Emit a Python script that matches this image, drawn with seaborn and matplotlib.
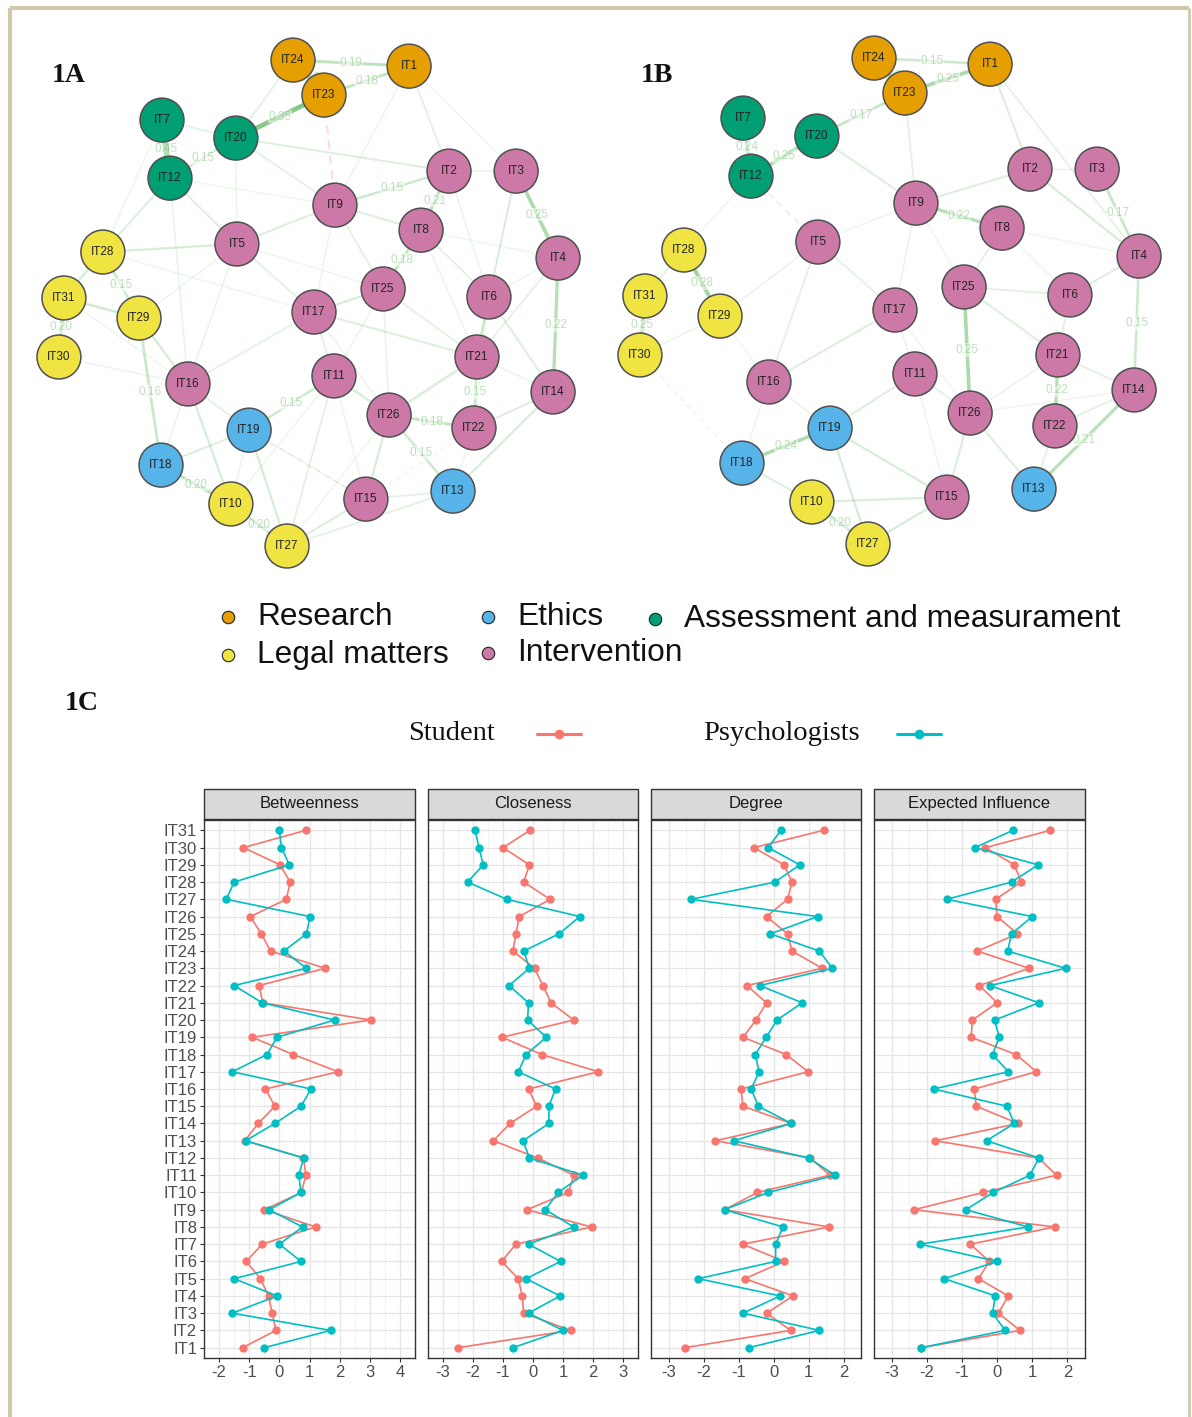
import numpy as np
import pandas as pd
import matplotlib
matplotlib.use("Agg")
import matplotlib.pyplot as plt
import seaborn as sns
from matplotlib.patches import Rectangle

# ---------------- data ----------------
items = [f"IT{i}" for i in range(1, 32)]

betw_student = [-1.22, -0.11, -0.24, -0.36, -0.63, -1.10, -0.57, 1.20, -0.50, 0.73, 0.88, 0.80, -1.15, -0.70, -0.15,
                -0.46, 1.95, 0.46, -0.90, 3.04, -0.55, -0.67, 1.52, -0.29, -0.60, -0.96, 0.23, 0.36, 0.02, -1.19, 0.88]
betw_psych = [-0.50, 1.70, -1.56, -0.08, -1.50, 0.72, 0.00, 0.77, -0.34, 0.72, 0.64, 0.81, -1.12, -0.15, 0.72,
              1.05, -1.56, -0.41, -0.08, 1.83, -0.57, -1.50, 0.90, 0.15, 0.90, 1.02, -1.76, -1.50, 0.33, 0.07, 0.00]
close_student = [-2.49, 1.25, -0.31, -0.36, -0.49, -1.05, -0.57, 1.95, -0.20, 1.18, 1.36, 0.15, -1.32, -0.77, 0.12,
                 -0.15, 2.18, 0.29, -1.03, 1.36, 0.60, 0.33, 0.05, -0.67, -0.57, -0.46, 0.57, -0.31, -0.12, -1.00, -0.10]
close_psych = [-0.67, 1.00, -0.15, 0.90, -0.23, 0.92, -0.15, 1.36, 0.41, 0.84, 1.66, -0.12, -0.33, 0.53, 0.53,
               0.75, -0.49, -0.23, 0.44, -0.18, -0.15, -0.80, -0.12, -0.31, 0.87, 1.56, -0.87, -2.18, -1.66, -1.80, -1.93]
degree_student = [-2.53, 0.49, -0.20, 0.56, -0.82, 0.30, -0.88, 1.59, -1.40, -0.46, 1.61, 1.05, -1.66, 0.51, -0.87,
                  -0.93, 0.99, 0.36, -0.87, -0.50, -0.20, -0.76, 1.39, 0.53, 0.40, -0.20, 0.40, 0.53, 0.30, -0.56, 1.43]
degree_psych = [-0.70, 1.31, -0.87, 0.19, -2.15, 0.06, 0.06, 0.27, -1.40, -0.15, 1.76, 1.00, -1.14, 0.51, -0.43,
                -0.64, -0.41, -0.52, -0.21, 0.10, 0.82, -0.39, 1.68, 1.31, -0.09, 1.26, -2.36, 0.04, 0.75, -0.15, 0.21]
ei_student = [-2.15, 0.65, 0.04, 0.32, -0.53, -0.22, -0.76, 1.64, -2.36, -0.39, 1.69, 1.18, -1.76, 0.60, -0.59,
              -0.65, 1.12, 0.54, -0.74, -0.70, 0.00, -0.50, 0.91, -0.56, 0.58, 0.00, -0.04, 0.69, 0.49, -0.33, 1.51]
ei_psych = [-2.15, 0.23, -0.13, -0.05, -1.50, 0.00, -2.19, 0.88, -0.89, -0.11, 0.93, 1.19, -0.30, 0.49, 0.28,
            -1.80, 0.32, -0.13, 0.06, -0.07, 1.19, -0.20, 1.95, 0.30, 0.41, 1.00, -1.43, 0.41, 1.17, -0.63, 0.45]

measures = ["Betweenness", "Closeness", "Degree", "Expected Influence"]
groups = ["Student", "Psychologists"]

# shared network layout (IT1..IT31)
layout_x = [0.403, 0.563, 0.832, 1.000, -0.287, 0.723, -0.587, 0.451, 0.106, -0.311, 0.102, -0.555, 0.579, 0.980,
            0.230, -0.483, 0.022, -0.591, -0.238, -0.291, 0.675, 0.663, 0.062, -0.062, 0.299, 0.323, -0.086,
            -0.824, -0.679, -1.000, -0.980]
layout_y = [0.975, 0.543, 0.543, 0.185, 0.243, 0.025, 0.753, 0.300, 0.403, -0.827, -0.300, 0.514, -0.774, -0.366,
            -0.807, -0.333, -0.037, -0.667, -0.523, 0.679, -0.222, -0.514, 0.856, 1.000, 0.058, -0.461, -1.000,
            0.210, -0.062, -0.222, 0.021]

domains = ["Research", "Legal matters", "Ethics", "Intervention", "Assessment and measurament"]
node_domain = {}
for it in ["IT1", "IT23", "IT24"]:
    node_domain[it] = "Research"
for it in ["IT7", "IT12", "IT20"]:
    node_domain[it] = "Assessment and measurament"
for it in ["IT10", "IT27", "IT28", "IT29", "IT30", "IT31"]:
    node_domain[it] = "Legal matters"
for it in ["IT13", "IT18", "IT19"]:
    node_domain[it] = "Ethics"
for it in items:
    node_domain.setdefault(it, "Intervention")

edges_students = [
    ("IT7", "IT12", 0.45), ("IT23", "IT20", 0.35), ("IT24", "IT23", 0.30), ("IT24", "IT1", 0.19),
    ("IT23", "IT1", 0.18), ("IT20", "IT12", 0.15), ("IT7", "IT20", 0.08), ("IT24", "IT20", 0.08),
    ("IT23", "IT9", -0.12), ("IT20", "IT2", 0.10), ("IT20", "IT9", 0.08), ("IT9", "IT2", 0.15),
    ("IT2", "IT8", 0.21), ("IT3", "IT4", 0.25), ("IT4", "IT14", 0.22), ("IT8", "IT25", 0.18),
    ("IT25", "IT17", 0.12), ("IT12", "IT28", 0.10), ("IT12", "IT5", 0.10), ("IT28", "IT5", 0.12),
    ("IT28", "IT31", 0.12), ("IT28", "IT29", 0.15), ("IT31", "IT30", 0.20), ("IT31", "IT29", 0.14),
    ("IT29", "IT16", 0.12), ("IT29", "IT18", 0.16), ("IT16", "IT10", 0.12), ("IT16", "IT19", 0.08),
    ("IT18", "IT10", 0.20), ("IT18", "IT19", 0.10), ("IT10", "IT27", 0.20), ("IT19", "IT27", 0.12),
    ("IT11", "IT19", 0.15), ("IT11", "IT26", 0.12), ("IT17", "IT11", 0.08), ("IT17", "IT21", 0.10),
    ("IT6", "IT21", 0.14), ("IT21", "IT22", 0.15), ("IT26", "IT22", 0.18), ("IT26", "IT21", 0.12),
    ("IT26", "IT13", 0.15), ("IT26", "IT15", 0.12), ("IT22", "IT14", 0.10), ("IT13", "IT14", 0.12),
    ("IT6", "IT14", 0.10), ("IT27", "IT15", 0.10), ("IT27", "IT13", 0.08), ("IT15", "IT13", 0.08),
    ("IT5", "IT9", 0.10), ("IT5", "IT17", 0.08), ("IT1", "IT2", 0.08), ("IT3", "IT6", 0.08),
    ("IT8", "IT6", 0.08), ("IT2", "IT3", 0.06), ("IT9", "IT25", 0.08), ("IT17", "IT16", 0.08),
    ("IT11", "IT27", 0.08), ("IT15", "IT19", -0.06), ("IT25", "IT21", 0.08), ("IT4", "IT21", 0.08),
    ("IT5", "IT16", 0.06), ("IT9", "IT8", 0.10), ("IT30", "IT16", 0.05), ("IT12", "IT16", 0.06),
    ("IT1", "IT9", 0.05), ("IT1", "IT3", 0.04), ("IT20", "IT5", 0.05), ("IT7", "IT28", 0.04),
    ("IT9", "IT17", 0.05), ("IT8", "IT21", 0.05), ("IT2", "IT6", 0.05), ("IT3", "IT21", 0.04),
    ("IT4", "IT6", 0.05), ("IT25", "IT11", 0.05), ("IT25", "IT26", 0.06), ("IT17", "IT26", 0.05),
    ("IT11", "IT15", 0.05), ("IT19", "IT15", 0.04), ("IT16", "IT18", 0.06), ("IT10", "IT19", 0.05),
    ("IT22", "IT13", 0.05), ("IT14", "IT21", 0.05), ("IT5", "IT29", 0.04), ("IT31", "IT16", 0.04),
    ("IT28", "IT17", 0.04), ("IT12", "IT9", 0.04), ("IT5", "IT25", 0.04), ("IT6", "IT22", 0.05),
    ("IT10", "IT11", 0.04), ("IT27", "IT26", 0.04), ("IT8", "IT4", 0.04), ("IT15", "IT22", -0.04),
]
edges_psych = [
    ("IT24", "IT23", 0.30), ("IT24", "IT1", 0.15), ("IT23", "IT1", 0.25), ("IT23", "IT20", 0.17),
    ("IT7", "IT12", 0.24), ("IT20", "IT12", 0.25), ("IT28", "IT29", 0.28), ("IT31", "IT30", 0.25),
    ("IT28", "IT31", 0.08), ("IT29", "IT30", 0.06), ("IT3", "IT4", 0.17), ("IT2", "IT4", 0.12),
    ("IT4", "IT14", 0.15), ("IT4", "IT6", 0.10), ("IT9", "IT8", 0.22), ("IT9", "IT2", 0.10),
    ("IT20", "IT9", 0.10), ("IT23", "IT9", 0.08), ("IT1", "IT2", 0.10), ("IT1", "IT4", 0.08),
    ("IT25", "IT26", 0.25), ("IT26", "IT15", 0.11), ("IT26", "IT13", 0.10), ("IT21", "IT22", 0.22),
    ("IT21", "IT25", 0.10), ("IT14", "IT13", 0.21), ("IT14", "IT21", 0.08), ("IT19", "IT18", 0.24),
    ("IT19", "IT11", 0.10), ("IT19", "IT27", 0.12), ("IT19", "IT15", 0.12), ("IT18", "IT10", 0.10),
    ("IT10", "IT27", 0.20), ("IT10", "IT15", 0.11), ("IT27", "IT15", 0.12), ("IT17", "IT16", 0.10),
    ("IT17", "IT5", 0.08), ("IT5", "IT16", 0.08), ("IT5", "IT29", 0.06), ("IT12", "IT5", -0.08),
    ("IT30", "IT18", -0.05), ("IT25", "IT6", 0.08), ("IT8", "IT25", 0.08), ("IT11", "IT26", 0.08),
    ("IT22", "IT13", 0.08), ("IT17", "IT11", 0.06), ("IT16", "IT19", 0.06), ("IT9", "IT17", 0.06),
    ("IT6", "IT21", 0.08), ("IT14", "IT22", 0.08),
    ("IT2", "IT3", 0.05), ("IT8", "IT6", 0.04), ("IT9", "IT25", 0.04), ("IT26", "IT21", 0.05),
    ("IT11", "IT15", 0.04), ("IT16", "IT18", 0.04), ("IT29", "IT16", 0.04), ("IT12", "IT28", 0.04),
    ("IT26", "IT14", 0.04), ("IT17", "IT26", 0.04), ("IT8", "IT4", 0.04), ("IT5", "IT9", 0.04),
]

# ---------------- style ----------------
sns.set_theme(style="white")
SANS = ["Liberation Sans", "DejaVu Sans"]
SERIF = ["Liberation Serif", "DejaVu Serif"]
plt.rcParams["font.family"] = SANS
plt.rcParams["axes.unicode_minus"] = False

domain_colors = {"Research": "#E69F00", "Legal matters": "#F0E442", "Ethics": "#56B4E9",
                 "Intervention": "#CC79A7", "Assessment and measurament": "#009E73"}
group_colors = {"Student": "#F8766D", "Psychologists": "#00BFC4"}

W, H = 1192, 1417
fig = plt.figure(figsize=(W / 100, H / 100), dpi=100)
fig.patch.set_facecolor("white")


def fig_box(x0, y0, x1, y1):
    return [x0 / W, 1 - y1 / H, (x1 - x0) / W, (y1 - y0) / H]


# ---------------- networks ----------------
nodes_df = pd.DataFrame({"item": items, "x": layout_x, "y": layout_y,
                         "domain": [node_domain[i] for i in items]})
pos = {r.item: (r.x, r.y) for r in nodes_df.itertuples()}


def draw_network(ax, edges):
    for a, b, w in sorted(edges, key=lambda e: abs(e[2])):
        (xa, ya), (xb, yb) = pos[a], pos[b]
        col = "#3DAA3D" if w > 0 else "#E8625C"
        alpha = min(0.75, 0.06 + (abs(w) / 0.45) ** 1.2 * 0.75)
        ax.plot([xa, xb], [ya, yb], color=col, alpha=alpha, lw=0.6 + abs(w) * 8,
                ls="-" if w > 0 else (0, (4, 3)), zorder=1, solid_capstyle="butt")
        if abs(w) >= 0.15:
            ax.text((xa + xb) / 2, (ya + yb) / 2, f"{w:.2f}", fontsize=8.5, color=col, alpha=0.35,
                    ha="center", va="center", zorder=2,
                    bbox=dict(facecolor="white", edgecolor="none", alpha=0.5, pad=0.5))
    sns.scatterplot(data=nodes_df, x="x", y="y", hue="domain", palette=domain_colors, s=1000,
                    edgecolor="#505050", linewidth=1.1, legend=False, ax=ax, zorder=3)
    for r in nodes_df.itertuples():
        ax.text(r.x, r.y, r.item, fontsize=8.5, ha="center", va="center", color="#222222", zorder=4)
    ax.set_xlim(-1.156, 1.168)
    ax.set_ylim(-1.181, 1.165)
    ax.set_axis_off()


axA = fig.add_axes(fig_box(20, 20, 600, 590))
draw_network(axA, edges_students)
axB = fig.add_axes(fig_box(601, 18, 1181, 588))
draw_network(axB, edges_psych)

# ---------------- centrality facets ----------------
rows = []
vals = {("Betweenness", "Student"): betw_student, ("Betweenness", "Psychologists"): betw_psych,
        ("Closeness", "Student"): close_student, ("Closeness", "Psychologists"): close_psych,
        ("Degree", "Student"): degree_student, ("Degree", "Psychologists"): degree_psych,
        ("Expected Influence", "Student"): ei_student, ("Expected Influence", "Psychologists"): ei_psych}
for (m, g), v in vals.items():
    for k, it in enumerate(items):
        rows.append({"measure": m, "group": g, "item": it, "pos": k, "value": v[k]})
cent = pd.DataFrame(rows)

panel_x = [(204, 415), (428, 638), (651, 861), (874, 1085)]
xlims = [(-2.28, 4.31), (-3.27, 3.25), (-3.19, 2.22), (-3.24, 2.23)]
xticks = [range(-2, 5), range(-3, 4), range(-3, 3), range(-3, 3)]
py0, py1 = 820, 1358
for i, m in enumerate(measures):
    ax = fig.add_axes(fig_box(panel_x[i][0], py0, panel_x[i][1], py1))
    sub = cent[cent.measure == m]
    sns.lineplot(data=sub, x="value", y="pos", hue="group", hue_order=groups, palette=group_colors,
                 orient="y", estimator=None, marker="o", markersize=6, markeredgewidth=0,
                 linewidth=1.2, legend=False, ax=ax)
    ax.set_xlim(*xlims[i])
    ax.set_ylim(-0.6, 30.6)
    ax.set_xticks(list(xticks[i]))
    ax.set_xticks(np.arange(xticks[i][0] - 0.5, xticks[i][-1] + 1, 1.0), minor=True)
    ax.set_yticks(range(31))
    if i == 0:
        ax.set_yticklabels(items)
    else:
        ax.set_yticklabels([])
    ax.set_xlabel("")
    ax.set_ylabel("")
    ax.grid(which="major", color="#E6E6E6", lw=1.0)
    ax.grid(which="minor", axis="x", color="#F0F0F0", lw=0.6)
    ax.set_axisbelow(True)
    for s in ax.spines.values():
        s.set_color("#333333")
        s.set_linewidth(1.0)
    ax.tick_params(axis="both", which="major", length=3, width=0.8, color="#333333",
                   labelcolor="#4D4D4D", labelsize=12, pad=2)
    ax.tick_params(axis="y", left=(i == 0))
    ax.tick_params(axis="x", bottom=True)
    ax.tick_params(which="minor", length=0)
    strip_h = 30 / (py1 - py0)
    ax.add_patch(Rectangle((0, 1.002), 1, strip_h, transform=ax.transAxes, clip_on=False,
                           facecolor="#D9D9D9", edgecolor="#333333", lw=1.0))
    ax.text(0.5, 1.002 + strip_h / 2, m, transform=ax.transAxes, ha="center", va="center",
            fontsize=12, color="#1A1A1A")

# ---------------- overlay: legends, labels, frame ----------------
ov = fig.add_axes([0, 0, 1, 1], facecolor="none")
ov.set_xlim(0, W)
ov.set_ylim(H, 0)
ov.set_axis_off()

leg_pos = {"Research": (228, 617), "Ethics": (488, 617), "Assessment and measurament": (655, 619),
           "Legal matters": (228, 655), "Intervention": (488, 653)}
for d in domains:
    x, y = leg_pos[d]
    ov.scatter([x], [y], s=80, color=domain_colors[d], edgecolor="#222222", linewidth=0.8, zorder=5)
    ov.text(x + 29, y, d, fontsize=22.8, ha="left", va="center", family=SANS, color="#111111")

for g, tx, lx in [("Student", 408, 537), ("Psychologists", 703, 897)]:
    ov.text(tx, 733, g, fontsize=20.5, family=SERIF, ha="left", va="center", color="#111111")
    ov.plot([lx, lx + 44], [734, 734], color=group_colors[g], lw=2.2)
    ov.plot([lx + 22], [734], marker="o", ms=7, color=group_colors[g], mew=0)

for lab, x, y in [("1A", 52, 75), ("1B", 641, 75), ("1C", 65, 704)]:
    ov.text(x, y, lab, fontsize=20, family=SERIF, fontweight="bold", ha="left", va="center", color="#111111")

frame_col = "#CFC8AA"
ov.plot([10, 10], [8, H], color=frame_col, lw=3, solid_capstyle="butt")
ov.plot([10, 1189], [8, 8], color=frame_col, lw=3, solid_capstyle="butt")
ov.plot([1189, 1189], [8, H], color=frame_col, lw=2, solid_capstyle="butt")

fig.savefig("out.png", dpi=100, facecolor="white")
